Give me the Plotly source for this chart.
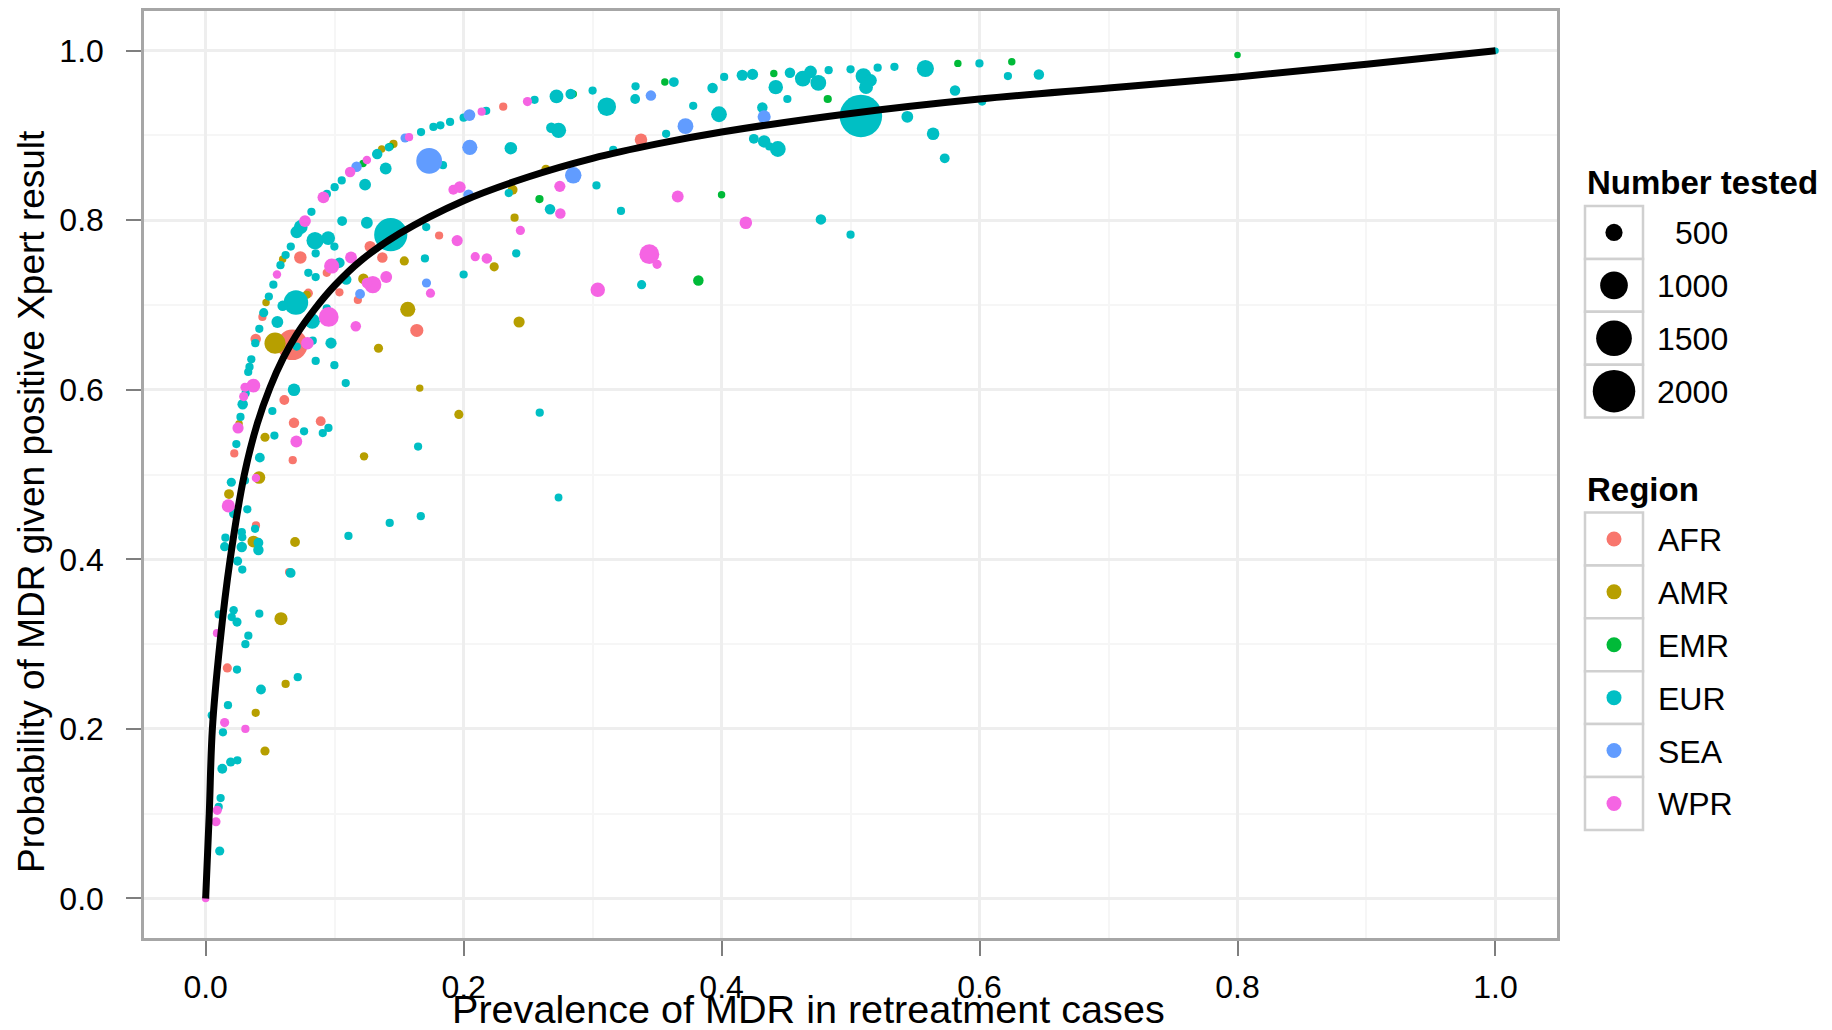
import plotly.graph_objects as go

W, H = 1832, 1030

curve_x = [0, .0028, .0052, .011, .019, .03, .04, .05, .06, .07, .085, .1, .12, .15, .2, .25, .3, .35, .4, .5, .6, .7, .8, .9, 1]
curve_y = [0, .1, .2, .3, .4, .5, .56, .603, .637, .664, .696, .723, .752, .784, .823, .851, .873, .89, .904, .926, .943, .956, .969, .984, 1]

AFR_x = [.2307, .0734, .0939, .1275, .137, .181, .1037, .118, .0796, .044, .0388, .0672, .1637, .061, .0685, .0892, .0222, .0675, .3375, .039, .0647, .0168]
AFR_y = [.934, .756, .738, .769, .756, .782, .715, .706, .714, .686, .660, .653, .670, .588, .561, .563, .525, .517, .895, .440, .385, .272]
AFR_n = [210, 334, 210, 292, 272, 210, 210, 210, 235, 210, 272, 1165, 355, 253, 272, 253, 210, 210, 334, 210, 210, 235]

AMR_x = [.1456, .1365, .2638, .238, .2395, .0597, .1223, .154, .2237, .0468, .0784, .1567, .243, .0538, .134, .166, .1963, .1228, .046, .0259, .0414, .0181, .037, .0693, .0584, .062, .0388, .046]
AMR_y = [.890, .884, .860, .836, .803, .754, .731, .752, .745, .703, .712, .695, .680, .655, .649, .602, .571, .5215, .544, .560, .4965, .477, .421, .4205, .330, .253, .219, .174]
AMR_n = [210, 190, 235, 253, 210, 190, 272, 235, 235, 190, 210, 425, 292, 671, 235, 190, 235, 216, 235, 190, 334, 253, 312, 253, 355, 210, 210, 235]

EMR_x = [.122, .143, .285, .2588, .356, .4405, .4823, .5832, .625, .400, .382, .8]
EMR_y = [.867, .887, .949, .825, .963, .973, .943, .985, .987, .830, .729, .995]
EMR_n = [190, 190, 190, 210, 190, 190, 210, 190, 190, 190, 272, 170]

EUR_x = [.2175, .255, .300, .272, .283, .200, .1895, .182, .1766, .167, .142, .133, .1055, .100, .094, .082, .0737, .0706, .066, .062, .058, .0525, .049, .045, .0416, .0385, .0354, .034, .033, .031, .0287, .027, .0238,
         .2366, .2736, .268, .311, .184, .1396, .1236, .1058, .125, .1435, .171, .0848, .095, .0998, .0853, .1037, .0796, .0853, .109, .170, .2408, .200, .303, .322, .267, .235, .070, .0597, .0939, .0827, .0556, .083, .0972, .0706, .0853, .0998, .1086, .0685, .0517, .0533, .0763, .0908, .0952, .259, .1647, .042, .316, .2736,
         .3333, .363, .333, .357, .378, .393, .402, .416, .424, .398, .442, .453, .463, .469, .475, .483, .5, .451, .4316, .510, .5155, .512, .521, .534, .558, .5999, .622, .646, .581, .602, .508, .544, .564, .573, .425, .433, .437, .4436, .477, .500, .338, 1.0,
         .0199, .0305, .0323, .022, .0383, .0153, .0147, .028, .0284, .028, .0409, .0409, .1107, .1427, .1668, .0248, .0284, .0659, .0101, .0217, .0202, .0243, .0416, .0331, .0308, .0243, .0714, .0429, .0173, .0047, .0134, .0194, .0246, .0129, .0116, .0101, .0109]
EUR_y = [.929, .942, .953, .946, .949, .921, .916, .912, .910, .904, .886, .878, .847, .839, .831, .810, .792, .786, .769, .759, .747, .724, .710, .691, .672, .655, .636, .627, .621, .596, .583, .568, .536,
         .885, .906, .909, .934, .865, .861, .842, .799, .797, .783, .792, .776, .779, .769, .761, .750, .738, .733, .730, .755, .761, .736, .841, .811, .813, .832, .703, .699, .696, .681, .680, .658, .655, .651, .634, .629, .608, .600, .575, .546, .551, .549, .555, .573, .533, .520, .883, .473,
         .958, .963, .943, .902, .935, .956, .969, .971, .972, .925, .957, .974, .967, .975, .962, .977, .978, .943, .933, .970, .965, .957, .980, .981, .979, .985, .970, .972, .953, .940, .923, .922, .902, .873, .896, .893, .887, .884, .801, .783, .724, 1.0,
         .491, .493, .459, .454, .436, .4256, .415, .432, .426, .4146, .4197, .411, .4276, .443, .451, .398, .388, .384, .335, .340, .332, .326, .336, .310, .300, .270, .261, .2465, .228, .216, .196, .161, .163, .153, .1185, .108, .056]
EUR_n = [210, 210, 210, 377, 272, 210, 210, 210, 210, 210, 210, 272, 210, 210, 210, 210, 377, 334, 210, 210, 210, 210, 210, 235, 210, 210, 210, 210, 210, 210, 272, 210, 210,
         334, 425, 272, 554, 210, 312, 312, 253, 312, 1332, 210, 500, 377, 210, 210, 272, 210, 210, 272, 210, 210, 210, 210, 210, 272, 210, 831, 272, 210, 425, 312, 210, 292, 210, 210, 210, 210, 334, 210, 210, 210, 210, 210, 210, 210, 253, 210, 200,
         210, 253, 253, 210, 210, 272, 210, 292, 292, 449, 400, 272, 449, 334, 449, 210, 210, 210, 272, 449, 334, 377, 210, 210, 500, 210, 210, 272, 272, 210, 2000, 312, 334, 253, 253, 334, 210, 449, 272, 210, 235, 170,
         235, 210, 210, 253, 210, 210, 235, 210, 210, 272, 253, 272, 210, 210, 210, 235, 210, 253, 210, 216, 210, 235, 210, 210, 210, 210, 210, 253, 210, 210, 210, 235, 210, 253, 210, 210, 235]

SEA_x = [.1546, .117, .2045, .1733, .2048, .285, .2038, .1712, .1197, .3452, .372, .433]
SEA_y = [.897, .863, .924, .870, .886, .853, .830, .726, .713, .947, .911, .922]
SEA_n = [235, 272, 312, 899, 425, 474, 272, 235, 253, 272, 449, 355]

WPR_x = [.1577, .125, .112, .0913, .214, .2495, .077, .0977, .1127, .140, .1296, .125, .0553, .0954, .1164, .0789, .195, .209, .218, .192, .197, .2746, .275, .244, .1743, .304, .037, .0305, .0295, .0251, .0703, .039, .0176, .0088, .0147, .0308, .009, .008, 0, .366, .4188, .344, .350]
WPR_y = [.898, .871, .857, .827, .928, .940, .799, .746, .756, .733, .724, .726, .736, .686, .675, .655, .776, .757, .755, .836, .839, .840, .808, .788, .714, .718, .605, .603, .592, .555, .539, .496, .463, .313, .2075, .2, .104, .0905, 0, .828, .797, .760, .748]
WPR_n = [210, 216, 272, 312, 210, 235, 312, 425, 312, 312, 500, 272, 216, 611, 272, 334, 292, 235, 272, 253, 312, 292, 272, 235, 235, 400, 377, 235, 235, 292, 312, 216, 355, 210, 235, 210, 235, 235, 190, 312, 334, 611, 235]

region_names = ["AFR", "AMR", "EMR", "EUR", "SEA", "WPR"]
region_colors = ["#F8766D", "#B79F00", "#00BA38", "#00BFC4", "#619CFF", "#F564E3"]
size_breaks = [500, 1000, 1500, 2000]

FONT = "Liberation Sans"


def diam(n):
    return -8.2 + 1.134 * n ** 0.5


fig = go.Figure()
series = [(AFR_x, AFR_y, AFR_n), (AMR_x, AMR_y, AMR_n), (EMR_x, EMR_y, EMR_n),
          (EUR_x, EUR_y, EUR_n), (SEA_x, SEA_y, SEA_n), (WPR_x, WPR_y, WPR_n)]
for name, color, (sx, sy, sn) in zip(region_names, region_colors, series):
    fig.add_trace(go.Scatter(x=sx, y=sy, mode="markers", name=name, showlegend=False,
                             marker=dict(color=color, opacity=1, size=[diam(v) for v in sn], sizemode="diameter", line=dict(width=0))))

fig.add_trace(go.Scatter(x=curve_x, y=curve_y, mode="lines", showlegend=False, name="Fit",
                         line=dict(color="black", width=7, shape="spline", smoothing=1)))

# legend panel, laid out in page pixels on a hidden overlay axis pair
KEY_L, KEY_R, KEY_C = 1585, 1643, 1614
ROW = 52.9
TOP1, TOP2 = 206, 512.5
shapes = []
annots = []
for top, count in ((TOP1, 4), (TOP2, 6)):
    for i in range(count):
        shapes.append(dict(type="rect", xref="x2", yref="y2", x0=KEY_L, x1=KEY_R,
                           y0=top + i * ROW, y1=top + (i + 1) * ROW,
                           line=dict(color="#D0D0D0", width=2.5), fillcolor="white", layer="below"))

fig.add_trace(go.Scatter(x=[KEY_C] * 4, y=[TOP1 + (i + .5) * ROW for i in range(4)], xaxis="x2", yaxis="y2",
                         mode="markers", showlegend=False, name="Number tested",
                         marker=dict(color="#000000", opacity=1, size=[diam(v) for v in size_breaks], line=dict(width=0))))
fig.add_trace(go.Scatter(x=[KEY_C] * 6, y=[TOP2 + (i + .5) * ROW for i in range(6)], xaxis="x2", yaxis="y2",
                         mode="markers", showlegend=False, name="Region",
                         marker=dict(color=region_colors, opacity=1, size=15, line=dict(width=0))))

for i, v in enumerate(size_breaks):
    annots.append(dict(xref="x2", yref="y2", x=1730, y=TOP1 + (i + .5) * ROW + 1, text=str(v), showarrow=False,
                       xanchor="right", yanchor="middle", font=dict(family=FONT, size=32, color="black")))
for i, v in enumerate(region_names):
    annots.append(dict(xref="x2", yref="y2", x=1656, y=TOP2 + (i + .5) * ROW + 1, text=v, showarrow=False,
                       xanchor="left", yanchor="middle", font=dict(family=FONT, size=32, color="black")))
annots.append(dict(xref="x2", yref="y2", x=1585, y=182, text="<b>Number tested</b>", showarrow=False,
                   xanchor="left", yanchor="middle", font=dict(family=FONT, size=33, color="black")))
annots.append(dict(xref="x2", yref="y2", x=1585, y=489, text="<b>Region</b>", showarrow=False,
                   xanchor="left", yanchor="middle", font=dict(family=FONT, size=33, color="black")))
annots.append(dict(xref="x2", yref="y2", x=808, y=1009, text="Prevalence of MDR in retreatment cases", showarrow=False,
                   xanchor="center", yanchor="middle", font=dict(family=FONT, size=39.6, color="black")))
annots.append(dict(xref="x2", yref="y2", x=31, y=502, text="Probability of MDR given positive Xpert result", showarrow=False,
                   textangle=-90, xanchor="center", yanchor="middle", font=dict(family=FONT, size=37, color="black")))

axis_common = dict(tickmode="linear", tick0=0, dtick=0.2, tickformat=".1f",
                   showgrid=True, gridcolor="#EEEEEE", gridwidth=2.5, zeroline=False,
                   showline=True, mirror=True, linecolor="#A6A6A6", linewidth=2.5,
                   ticks="outside", ticklen=15, tickwidth=2, tickcolor="#7F7F7F",
                   tickfont=dict(family=FONT, size=32, color="black"),
                   minor=dict(tick0=0, dtick=0.1, showgrid=True, gridcolor="#F6F6F6", gridwidth=2, ticks=""))

fig.update_layout(
    width=W, height=H, margin=dict(l=0, r=0, t=0, b=0), autosize=False,
    paper_bgcolor="white", plot_bgcolor="rgba(0,0,0,0)", showlegend=False,
    shapes=shapes, annotations=annots,
    xaxis=dict(domain=[144 / W, 1557 / W], range=[-0.0478, 1.0477], ticklabelstandoff=4, **axis_common),
    yaxis=dict(domain=[1 - 938 / H, 1 - 11 / H], range=[-0.0466, 1.0468], ticklabelstandoff=16, **axis_common),
    xaxis2=dict(domain=[0, 1], range=[0, W], visible=False, fixedrange=True, anchor="y2"),
    yaxis2=dict(domain=[0, 1], range=[H, 0], visible=False, fixedrange=True, anchor="x2"),
)

fig.write_html("out.html", post_script="document.body.style.margin='0';", config={"displayModeBar": False})
